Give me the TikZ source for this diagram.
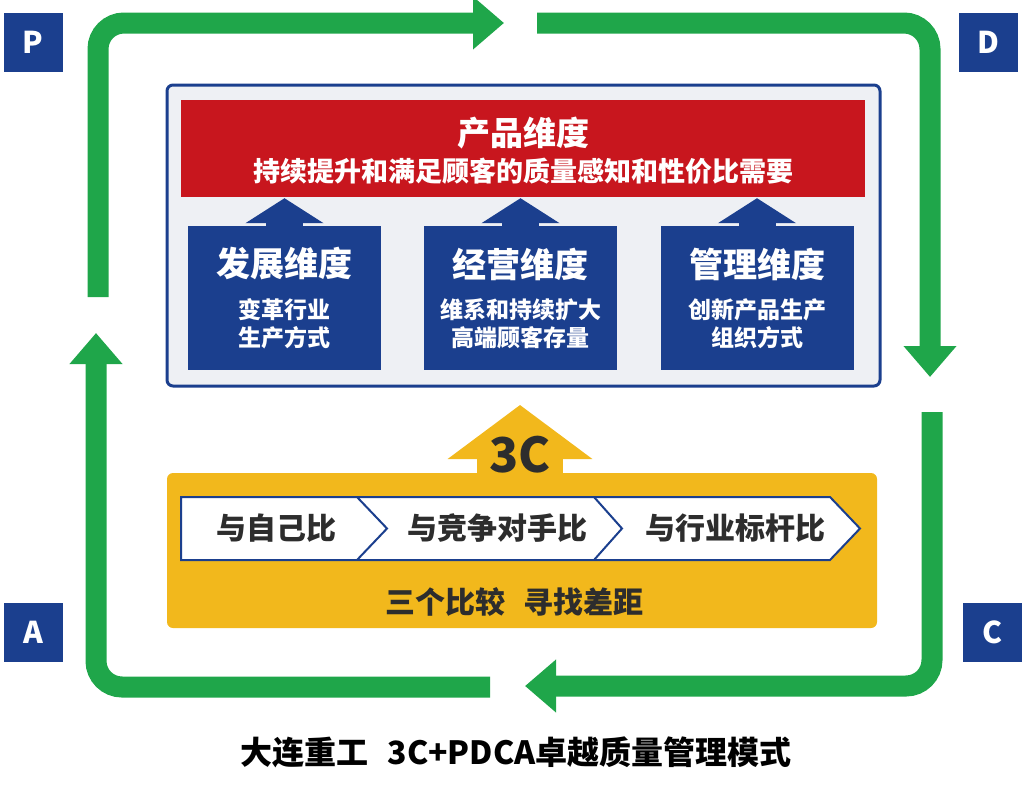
\documentclass[tikz,border=0pt]{standalone}
\usepackage{fontspec}
\setmainfont{Noto Sans CJK SC}
\usetikzlibrary{arrows.meta}

\definecolor{loopgreen}{RGB}{31,166,74}
\definecolor{navy}{RGB}{27,63,142}
\definecolor{barred}{RGB}{200,22,30}
\definecolor{gold}{RGB}{242,184,28}
\definecolor{panelgray}{RGB}{238,240,244}
\definecolor{ink}{RGB}{45,45,45}

\begin{document}
\begin{tikzpicture}[x=1pt, y=-1pt,
	phase/.style={shape=rectangle, fill=navy, text=white, minimum width=59, minimum height=59, inner sep=0, font=\fontsize{30}{30}\selectfont\bfseries},
	loop/.style={draw=loopgreen, line width=21, rounded corners=26, -{Triangle[width=51pt, length=31pt]}},
	dimbox/.style={shape=rectangle, fill=navy, minimum width=193, minimum height=144, inner sep=0},
	dimhead/.style={text=white, inner sep=0, font=\fontsize{34}{34}\selectfont\bfseries},
	dimsub/.style={text=white, inner sep=0, align=center, font=\fontsize{23}{28}\selectfont\bfseries},
	up/.style={draw=navy, line width=37, -{Triangle[width=77pt, length=25pt, fill=navy]}, shorten >=1},
	cmp/.style={text=ink, inner sep=0, font=\fontsize{30}{30}\selectfont\bfseries}]
	\useasboundingbox (0, 0) rectangle (1024, 787);

	% PDCA letters
	\node[phase] (pP) at (33, 42) {P};
	\node[phase] (pD) at (988, 42) {D};
	\node[phase] (pA) at (33, 632) {A};
	\node[phase] (pC) at (992, 632) {C};

	\coordinate (pStart) at (98, 297);
	\coordinate (pEnd) at (504, 23);
	\coordinate (dStart) at (537, 23);
	\coordinate (dEnd) at (930, 377);
	\coordinate (cStart) at (932, 412);
	\coordinate (cEnd) at (525, 686);
	\coordinate (aStart) at (490, 687);
	\coordinate (aEnd) at (96, 333);

	\path [loop] (pStart) |- (pEnd);
	\path [loop] (dStart) -| (dEnd);
	\path [loop] (cStart) |- (cEnd);
	\path [loop] (aStart) -| (aEnd);

	% panel
	\node[shape=rectangle, draw=navy, line width=3, fill=panelgray, rounded corners=6, minimum width=713, minimum height=301, inner sep=0] (panel) at (523.5, 235.5) {};
	\node[shape=rectangle, fill=barred, minimum width=684, minimum height=97, inner sep=0] (bar) at (523, 148.5) {};
	\node[text=white, inner sep=0, font=\fontsize{33}{33}\selectfont\bfseries] (barTitle) at (523, 133) {产品维度};
	\node[text=white, inner sep=0, font=\fontsize{27}{27}\selectfont\bfseries] (barText) at (523, 171) {持续提升和满足顾客的质量感知和性价比需要};

	\node[dimbox] (d1) at (284.5, 298) {};
	\node[dimbox] (d2) at (520.5, 298) {};
	\node[dimbox] (d3) at (757, 298) {};

	\node[dimhead] (h1) at (284.5, 264) {发展维度};
	\node[dimhead] (h2) at (520.5, 264) {经营维度};
	\node[dimhead] (h3) at (757, 264) {管理维度};

	\node[dimsub] (s1) at (284.5, 324) {变革行业\\生产方式};
	\node[dimsub] (s2) at (520.5, 324) {维系和持续扩大\\高端顾客存量};
	\node[dimsub] (s3) at (757, 324) {创新产品生产\\组织方式};

	\draw [up] (d1) -- (d1 |- bar.south);
	\draw [up] (d2) -- (d2 |- bar.south);
	\draw [up] (d3) -- (d3 |- bar.south);

	% 3C
	\node[shape=rectangle, fill=gold, rounded corners=6, minimum width=710, minimum height=155, inner sep=0] (ybox) at (522, 550.5) {};
	\coordinate (tip3C) at (520, 405);
	\draw[gold, line width=86, -{Triangle[width=142pt, length=54pt]}] (ybox.north -| tip3C) ++(0, 2) -- (tip3C);
	\node[text=ink, inner sep=0, font=\fontsize{48}{48}\selectfont\bfseries] (lbl3C) at (520, 455) {3C};

	\draw[navy, line width=2, fill=white] (181, 497) -- (830, 497) -- (860, 528.5) -- (830, 560) -- (181, 560) -- cycle;
	\draw[navy, line width=2] (357, 497) -- (387, 528.5) -- (357, 560);
	\draw[navy, line width=2] (594, 497) -- (622, 528.5) -- (594, 560);

	\node[cmp] (c1) at (276, 528) {与自己比};
	\node[cmp] (c2) at (497, 528) {与竞争对手比};
	\node[cmp] (c3) at (735, 528) {与行业标杆比};

	\node[cmp] (gap) at (514, 602) {三个比较\hspace{0.6em}寻找差距};

	\node[text=black, inner sep=0, font=\fontsize{32}{32}\selectfont\bfseries] (title) at (516, 752) {大连重工\hspace{0.6em}3C+PDCA卓越质量管理模式};

\end{tikzpicture}
\end{document}
